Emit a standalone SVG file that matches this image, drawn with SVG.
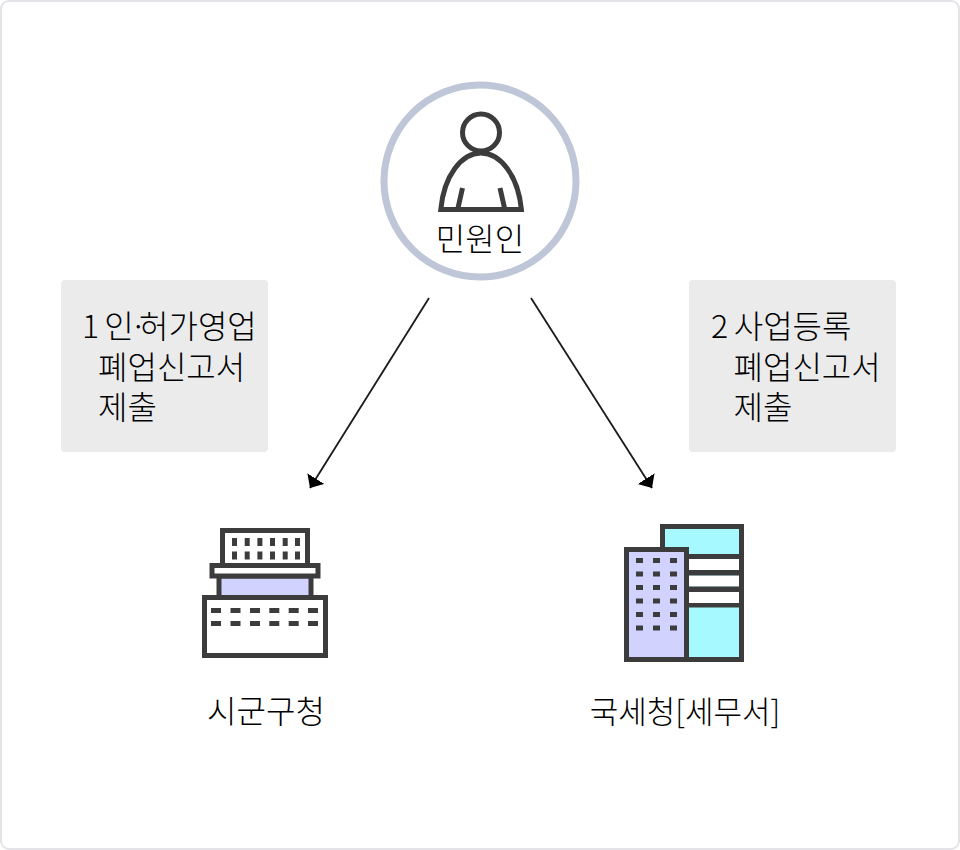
<svg xmlns="http://www.w3.org/2000/svg" width="960" height="850" viewBox="0 0 960 850">
<style>
text{font-family:"Noto Sans CJK KR","Noto Sans",sans-serif;font-weight:300;fill:#000;font-size:32px}
.k{fill:none;stroke:#3c3c3c;stroke-width:5}
.w{fill:#3c3c3c}
.box{fill:#ebebeb}
.c{stroke:#1a1a1a;stroke-width:1.8;fill:none;marker-end:url(#a)}
</style>
<defs>
<marker id="a" markerUnits="userSpaceOnUse" markerWidth="20" markerHeight="22" refX="11" refY="10" orient="auto"><path d="M0 0L11 10L0 20Z" fill="#000"/></marker>
</defs>
<rect id="frame" x="1" y="1" width="958" height="848" rx="8" fill="#fff" stroke="#e3e3e8" stroke-width="2"/>
<g id="connectors">
<line class="c" x1="429" y1="298" x2="310" y2="488"/>
<line class="c" x1="531" y1="298" x2="652" y2="488"/>
</g>
<g id="person">
<circle cx="480" cy="181" r="96" fill="#fff" stroke="#bec6d8" stroke-width="7"/>
<circle class="k" cx="481" cy="132.500" r="18.500"/>
<path class="k" d="M440.800 209.500C444 175 462 153 481 153C500 153 518 175 521.400 209.500Z"/>
<path class="k" d="M462.500 188L458 208M500 188L504.500 208"/>
<text x="480" y="251" text-anchor="middle">민원인</text>
</g>
<g id="note1">
<rect class="box" x="61" y="280" width="207" height="172" rx="4"/>
<text x="82" y="338" dx="0 0 -2 -4 -8">1 인·허가영업</text>
<text x="98" y="379">폐업신고서</text>
<text x="98" y="419">제출</text>
</g>
<g id="note2">
<rect class="box" x="689" y="280" width="207" height="172" rx="4"/>
<text x="711" y="338" dx="0 0 -1.500">2 사업등록</text>
<text x="733.500" y="379">폐업신고서</text>
<text x="733.500" y="419">제출</text>
</g>
<g id="cityhall">
<rect class="k" x="222.500" y="530.500" width="85" height="36" style="fill:#fff"/>
<rect class="k" x="219" y="576" width="92" height="22" style="fill:#d2d2ff"/>
<rect class="k" x="212" y="565.500" width="106" height="10.500" style="fill:#fff"/>
<rect class="k" x="204.500" y="597.500" width="121" height="58" style="fill:#fff"/>
<path class="w" d="M232 538h5v8h-5zM244.700 538h5v8h-5zM257.400 538h5v8h-5zM270 538h5v8h-5zM282.700 538h5v8h-5zM295 538h5v8h-5zM232 551.500h5v8h-5zM244.700 551.500h5v8h-5zM257.400 551.500h5v8h-5zM270 551.500h5v8h-5zM282.700 551.500h5v8h-5zM295 551.500h5v8h-5z"/>
<path class="w" d="M211 608h10v5h-10zM230.500 608h10v5h-10zM250 608h10v5h-10zM269.300 608h10v5h-10zM288.700 608h10v5h-10zM308 608h10v5h-10zM211 621h10v5h-10zM230.500 621h10v5h-10zM250 621h10v5h-10zM269.300 621h10v5h-10zM288.700 621h10v5h-10zM308 621h10v5h-10z"/>
<text x="266" y="723" text-anchor="middle">시군구청</text>
</g>
<g id="taxoffice">
<rect class="k" x="662.500" y="526.500" width="79" height="133" style="fill:#a6f9ff"/>
<rect x="689" y="559" width="50" height="11" fill="#fff"/>
<rect x="689" y="575.500" width="50" height="11" fill="#fff"/>
<rect x="689" y="592" width="50" height="11" fill="#fff"/>
<path class="w" d="M689 554h52v5h-52zM689 570h52v5.500h-52zM689 586.500h52v5.500h-52zM689 603h52v4.500h-52z"/>
<rect class="k" x="626.500" y="549.500" width="60" height="110" style="fill:#d2d2ff"/>
<path class="w" d="M636 558h7v5h-7zM653 558h7v5h-7zM670 558h7v5h-7zM636 571.500h7v5h-7zM653 571.500h7v5h-7zM670 571.500h7v5h-7zM636 585h7v5h-7zM653 585h7v5h-7zM670 585h7v5h-7zM636 598.500h7v5h-7zM653 598.500h7v5h-7zM670 598.500h7v5h-7zM636 612h7v5h-7zM653 612h7v5h-7zM670 612h7v5h-7zM636 625.500h7v5h-7zM653 625.500h7v5h-7zM670 625.500h7v5h-7z"/>
<text x="685" y="723" text-anchor="middle" style="font-size:31px">국세청[세무서]</text>
</g>
</svg>
